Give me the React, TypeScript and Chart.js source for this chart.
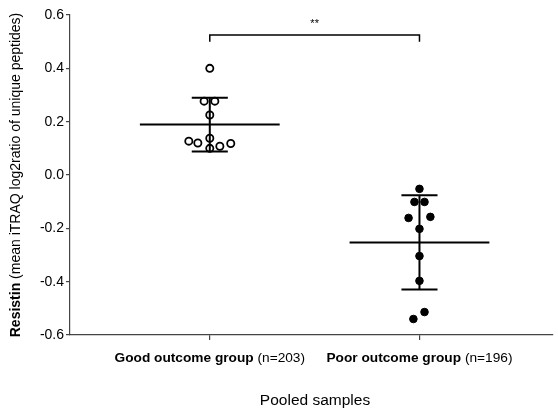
import React, { useEffect, useRef } from "react";
import { Chart, registerables } from "chart.js";

Chart.register(...registerables);

// ---- data ----
const groupLabels = ["Good outcome group", "Poor outcome group"];
const groupNotes = [" (n=203)", " (n=196)"];
const groupPositions = [1, 2];

const goodValues = [0.4, 0.277, 0.277, 0.225, 0.138, 0.127, 0.12, 0.1, 0.108, 0.118];
const goodJitter = [0, -0.027, 0.024, 0, 0, -0.1, -0.057, 0, 0.048, 0.1];

const poorValues = [-0.052, -0.101, -0.101, -0.161, -0.157, -0.202, -0.304, -0.397, -0.54, -0.514];
const poorJitter = [0, -0.024, 0.024, -0.052, 0.052, 0, 0, 0, -0.029, 0.024];

const yTicks = [-0.6, -0.4, -0.2, 0.0, 0.2, 0.4, 0.6];
const yTitleBold = "Resistin";
const yTitleRest = " (mean iTRAQ log2ratio of unique peptides)";
const xTitle = "Pooled samples";
const significanceText = "**";
const bracketTop = 0.525;
const bracketBottom = 0.5;
const significanceLabelY = 0.565;

// ---- helpers (stats from the data) ----
const mean = (a: number[]) => a.reduce((s, v) => s + v, 0) / a.length;
const sd = (a: number[]) => {
  const m = mean(a);
  return Math.sqrt(a.reduce((s, v) => s + (v - m) * (v - m), 0) / (a.length - 1));
};

const MEAN_HALF = 1 / 3;
const CAP_HALF = 0.086;
const FONT = "'Liberation Sans', Arial, sans-serif";

function segment(data: { x: number; y: number }[], width = 2) {
  return {
    type: "line" as const,
    data,
    borderColor: "#000",
    borderWidth: width,
    pointRadius: 0,
    fill: false,
    tension: 0,
    order: 0,
  };
}

export default function App() {
  const ref = useRef<HTMLCanvasElement | null>(null);

  useEffect(() => {
    document.body.style.margin = "0";
    const canvas = ref.current;
    if (!canvas) return;

    const groups = [goodValues, poorValues];
    const lineSets: any[] = [];
    groups.forEach((vals, i) => {
      const x = groupPositions[i];
      const m = mean(vals);
      const s = sd(vals);
      lineSets.push(segment([{ x: x - MEAN_HALF, y: m }, { x: x + MEAN_HALF, y: m }]));
      lineSets.push(segment([{ x, y: m - s }, { x, y: m + s }]));
      lineSets.push(segment([{ x: x - CAP_HALF, y: m + s }, { x: x + CAP_HALF, y: m + s }]));
      lineSets.push(segment([{ x: x - CAP_HALF, y: m - s }, { x: x + CAP_HALF, y: m - s }]));
    });
    lineSets.push(
      segment(
        [
          { x: groupPositions[0], y: bracketBottom },
          { x: groupPositions[0], y: bracketTop },
          { x: groupPositions[1], y: bracketTop },
          { x: groupPositions[1], y: bracketBottom },
        ],
        1.5
      )
    );

    const textPlugin = {
      id: "texts",
      afterDraw(chart: any) {
        const ctx = chart.ctx as CanvasRenderingContext2D;
        const xs = chart.scales.x;
        const ys = chart.scales.y;
        const area = chart.chartArea;
        ctx.save();
        ctx.fillStyle = "#000";

        // x tick labels (bold + normal)
        const xf = 13.7;
        ctx.textBaseline = "middle";
        ctx.textAlign = "left";
        groupLabels.forEach((lab, i) => {
          const cx = xs.getPixelForValue(groupPositions[i]);
          ctx.font = `bold ${xf}px ${FONT}`;
          const wb = ctx.measureText(lab).width;
          ctx.font = `${xf}px ${FONT}`;
          const wn = ctx.measureText(groupNotes[i]).width;
          const start = cx - (wb + wn) / 2;
          ctx.font = `bold ${xf}px ${FONT}`;
          ctx.fillText(lab, start, 358);
          ctx.font = `${xf}px ${FONT}`;
          ctx.fillText(groupNotes[i], start + wb, 358);
        });

        // x title
        ctx.textAlign = "center";
        ctx.font = `15.5px ${FONT}`;
        ctx.fillText(xTitle, 315, 401);

        // significance
        ctx.font = `11px ${FONT}`;
        ctx.fillText(
          significanceText,
          xs.getPixelForValue((groupPositions[0] + groupPositions[1]) / 2),
          ys.getPixelForValue(significanceLabelY)
        );

        // y title rotated
        const yf = 14;
        ctx.translate(20, (area.top + area.bottom) / 2);
        ctx.rotate(-Math.PI / 2);
        ctx.textBaseline = "alphabetic";
        ctx.textAlign = "left";
        ctx.font = `bold ${yf}px ${FONT}`;
        const tb = ctx.measureText(yTitleBold).width;
        ctx.font = `${yf}px ${FONT}`;
        const tr = ctx.measureText(yTitleRest).width;
        const st = -(tb + tr) / 2;
        ctx.font = `bold ${yf}px ${FONT}`;
        ctx.fillText(yTitleBold, st, 0);
        ctx.font = `${yf}px ${FONT}`;
        ctx.fillText(yTitleRest, st + tb, 0);
        ctx.restore();
      },
    };

    const chart = new Chart(canvas, {
      type: "scatter",
      data: {
        datasets: [
          ...lineSets,
          {
            type: "scatter",
            data: goodValues.map((y, i) => ({ x: groupPositions[0] + goodJitter[i], y })),
            pointRadius: 3.6,
            pointBorderWidth: 1.8,
            backgroundColor: "#fff",
            borderColor: "#000",
            order: 1,
          },
          {
            type: "scatter",
            data: poorValues.map((y, i) => ({ x: groupPositions[1] + poorJitter[i], y })),
            pointRadius: 3.8,
            pointBorderWidth: 1,
            backgroundColor: "#000",
            borderColor: "#000",
            order: 1,
          },
        ] as any,
      },
      options: {
        animation: false,
        responsive: false,
        events: [],
        layout: { padding: { top: 15, right: 0, bottom: 0, left: 0 } },
        plugins: {
          legend: { display: false },
          tooltip: { enabled: false },
          title: { display: false },
        },
        scales: {
          x: {
            type: "linear",
            min: 1 / 3,
            max: 2.633,
            afterBuildTicks: (s: any) => {
              s.ticks = groupPositions.map((v) => ({ value: v }));
            },
            afterFit: (s: any) => {
              s.height = 75;
            },
            ticks: { display: false },
            grid: {
              drawOnChartArea: false,
              drawTicks: true,
              tickLength: 5,
              color: "#444",
              lineWidth: 1.2,
            },
            border: { display: true, color: "#444", width: 1.2 },
          },
          y: {
            type: "linear",
            min: -0.6,
            max: 0.6,
            afterBuildTicks: (s: any) => {
              s.ticks = yTicks.map((v) => ({ value: v }));
            },
            afterFit: (s: any) => {
              s.width = 70;
            },
            ticks: {
              padding: 2,
              color: "#000",
              font: { family: FONT, size: 14 },
              callback: (v: any) => (Math.abs(Number(v)) < 1e-9 ? "0.0" : Number(v).toFixed(1)),
            },
            grid: {
              drawOnChartArea: false,
              drawTicks: true,
              tickLength: 4,
              color: "#444",
              lineWidth: 1.2,
            },
            border: { display: true, color: "#444", width: 1.2 },
          },
        },
      },
      plugins: [textPlugin],
    });

    return () => chart.destroy();
  }, []);

  return (
    <div style={{ width: 558, height: 410 }}>
      <canvas ref={ref} width={558} height={410} />
    </div>
  );
}
